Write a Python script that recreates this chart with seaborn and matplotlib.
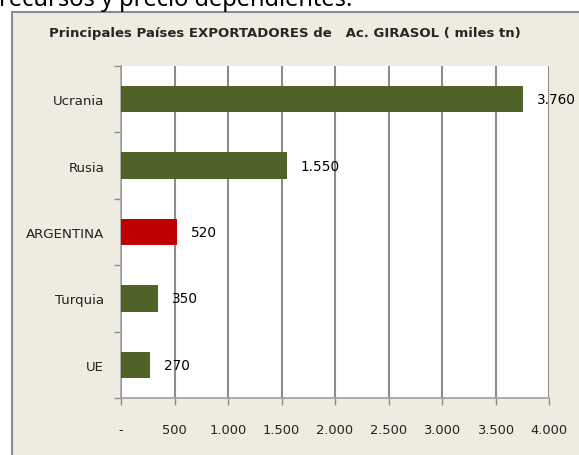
import numpy as np
import pandas as pd
import seaborn as sns
import matplotlib.pyplot as plt
from matplotlib.patches import Rectangle
from matplotlib.ticker import FuncFormatter, FixedLocator

# exportadores de aceite de girasol (miles tn)
paises = ['Ucrania', 'Rusia', 'ARGENTINA', 'Turquia', 'UE']
valores = [3760, 1550, 520, 350, 270]
colores = ['#4F6228', '#4F6228', '#C00000', '#4F6228', '#4F6228']

df = pd.DataFrame({'pais': paises, 'valor': valores})

sns.set_style('white')
plt.rcParams['font.family'] = ['DejaVu Sans']

fig = plt.figure(figsize=(5.79, 4.56), dpi=100)
fig.patch.set_facecolor('white')

# caja del grafico (fondo beige con borde gris)
W, H = 579, 456
caja = Rectangle((12 / W, -0.01), 1, 1.01 - 13 / H, transform=fig.transFigure,
                 facecolor='#EEEBE0', edgecolor='#8C8C8C', linewidth=1.5, zorder=-5)
fig.add_artist(caja)

# texto cortado arriba
fig.text(-1 / W, 1 - 6 / H, 'recursos y precio dependientes.', fontsize=17,
         family='Noto Sans', va='baseline', ha='left', color='black')

ax = fig.add_axes([121 / W, 1 - 399 / H, (549 - 121) / W, (399 - 67) / H])
ax.set_facecolor('white')

sns.barplot(data=df, y='pais', x='valor', hue='pais', palette=colores, legend=False,
            width=0.4, orient='h', ax=ax, zorder=3, saturation=1, linewidth=0)

ax.set_xlim(0, 4000)
ax.set_xticks(np.arange(0, 4001, 500))
ax.xaxis.set_major_formatter(FuncFormatter(lambda v, p: '-' if v == 0 else f'{int(v):,}'.replace(',', '.')))
ax.grid(axis='x', color='#8C8C8C', linewidth=1.5, zorder=1)
ax.set_axisbelow(True)

# ticks del eje y entre categorias
ax.yaxis.set_minor_locator(FixedLocator(np.arange(-0.5, 5, 1.0)))
ax.tick_params(axis='y', which='major', length=0, pad=12, labelsize=9.6, labelcolor='#222222')
ax.tick_params(axis='y', which='minor', left=True, length=5, color='#8C8C8C', width=1)
ax.tick_params(axis='x', which='major', bottom=True, length=5, color='#8C8C8C', width=1,
               pad=13, labelsize=9.4, labelcolor='#222222')

for s in ['top', 'right']:
    ax.spines[s].set_visible(False)
for s in ['left', 'bottom']:
    ax.spines[s].set_color('#A0A0A0')
    ax.spines[s].set_linewidth(1.2)

ax.set_xlabel('')
ax.set_ylabel('')

for i, v in enumerate(valores):
    ax.annotate(f'{v:,}'.replace(',', '.'), xy=(v, i), xytext=(10, 0), textcoords='offset points',
                va='center', ha='left', fontsize=9.8, color='black', zorder=5)

fig.text(285 / W, 1 - 34 / H, 'Principales Países EXPORTADORES de   Ac. GIRASOL ( miles tn)',
         ha='center', va='center', fontsize=9.5, weight='bold')

fig.savefig('out.png', dpi=100)
